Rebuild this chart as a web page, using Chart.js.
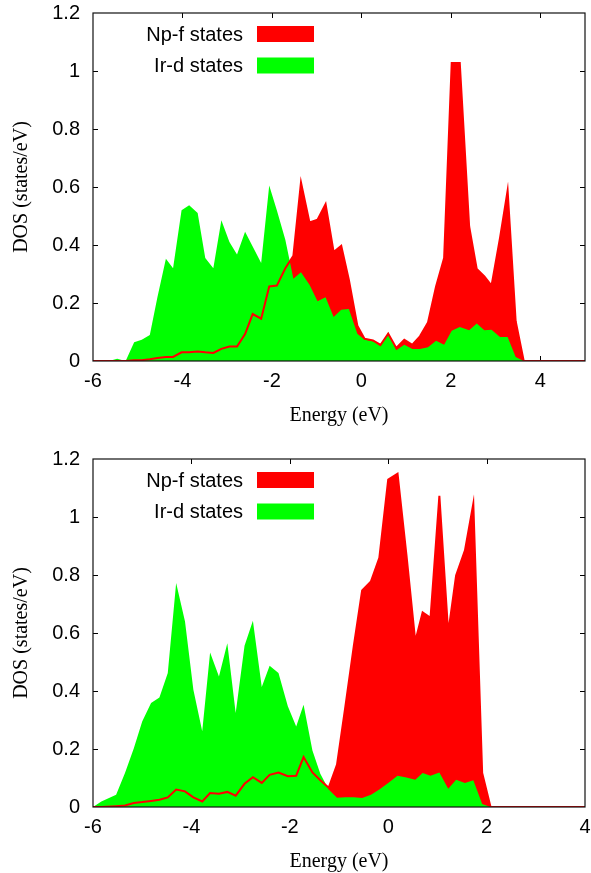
<!DOCTYPE html>
<html><head><meta charset="utf-8">
<script src="https://cdn.jsdelivr.net/npm/chart.js@4.4.0/dist/chart.umd.min.js"></script>
<style>
html,body{margin:0;padding:0;background:#fff;overflow:hidden;width:591px;height:873px;}
.panel{position:absolute;left:0;width:591px;height:446px;}
canvas{display:block;}
</style></head><body>
<div class="panel" style="top:0"><canvas id="c1" width="591" height="446"></canvas></div>
<div class="panel" style="top:446px"><canvas id="c2" width="591" height="446"></canvas></div>
<script>
// ---- data ----
const seriesLabels = ['Np-f states', 'Ir-d states'];
const xAxisTitle = 'Energy (eV)';
const yAxisTitle = 'DOS (states/eV)';

const topEnergy = [-6.00, -5.64, -5.46, -5.27, -5.08, -4.91, -4.73, -4.56, -4.37, -4.21,
  -4.02, -3.85, -3.66, -3.49, -3.31, -3.13, -2.95, -2.78, -2.60, -2.43,
  -2.24, -2.06, -1.89, -1.70, -1.52, -1.35, -1.16, -0.98, -0.80, -0.62,
  -0.45, -0.28, -0.09, 0.07, 0.26, 0.43, 0.60, 0.78, 0.96, 1.14,
  1.31, 1.49, 1.67, 1.85, 2.02, 2.20, 2.41, 2.58, 2.75, 2.91,
  3.10, 3.27, 3.45, 3.63, 3.80, 5.00];
const topIrD = [0, 0, 0.008, 0, 0.065, 0.073, 0.09, 0.22, 0.353, 0.32,
  0.52, 0.537, 0.51, 0.355, 0.32, 0.485, 0.41, 0.367, 0.446, 0.395,
  0.338, 0.605, 0.52, 0.418, 0.284, 0.306, 0.263, 0.206, 0.22, 0.152,
  0.177, 0.179, 0.094, 0.073, 0.068, 0.05, 0.099, 0.037, 0.056, 0.041,
  0.041, 0.047, 0.07, 0.056, 0.104, 0.117, 0.106, 0.129, 0.106, 0.108,
  0.083, 0.083, 0.014, 0, 0, 0];
const topNpF = [0, 0, 0, 0, 0.003, 0.003, 0.006, 0.01, 0.014, 0.014,
  0.03, 0.03, 0.033, 0.03, 0.028, 0.042, 0.05, 0.05, 0.093, 0.162,
  0.146, 0.257, 0.26, 0.32, 0.363, 0.616, 0.478, 0.487, 0.541, 0.376,
  0.397, 0.28, 0.122, 0.077, 0.071, 0.056, 0.094, 0.045, 0.073, 0.056,
  0.085, 0.133, 0.257, 0.355, 1.028, 1.028, 0.464, 0.317, 0.292, 0.26,
  0.424, 0.588, 0.137, 0, 0, 0];

const bottomEnergy = [-6.00, -5.83, -5.53, -5.35, -5.17, -5.00, -4.82, -4.65, -4.48, -4.31,
  -4.13, -3.96, -3.78, -3.62, -3.44, -3.27, -3.10, -2.92, -2.75, -2.57,
  -2.41, -2.23, -2.04, -1.87, -1.72, -1.54, -1.38, -1.21, -1.04, -0.87,
  -0.70, -0.53, -0.35, -0.18, 0.00, 0.19, 0.37, 0.55, 0.70, 0.86,
  1.04, 1.22, 1.38, 1.56, 1.73, 1.91, 2.08, 4.00];
const bottomIrD = [0, 0.019, 0.042, 0.117, 0.203, 0.295, 0.359, 0.378, 0.462, 0.772,
  0.64, 0.404, 0.261, 0.533, 0.45, 0.565, 0.324, 0.556, 0.642, 0.414,
  0.487, 0.462, 0.347, 0.278, 0.353, 0.195, 0.115, 0.06, 0.032, 0.034,
  0.034, 0.031, 0.042, 0.06, 0.083, 0.108, 0.102, 0.094, 0.117, 0.108,
  0.119, 0.063, 0.094, 0.083, 0.092, 0.01, 0, 0];
const bottomNpF = [0, 0, 0.003, 0.005, 0.014, 0.017, 0.021, 0.025, 0.033, 0.06,
  0.054, 0.033, 0.019, 0.048, 0.046, 0.052, 0.039, 0.08, 0.103, 0.083,
  0.111, 0.119, 0.106, 0.108, 0.172, 0.119, 0.092, 0.066, 0.146, 0.347,
  0.554, 0.747, 0.778, 0.859, 1.129, 1.149, 0.87, 0.571, 0.671, 0.652,
  1.073, 0.6, 0.798, 0.885, 1.046, 0.117, 0, 0];

const topXRange = [-6, 5];
const bottomXRange = [-6, 4];
const yRange = [0, 1.2];
const xStep = 2;
const yStep = 0.2;

// ---- styling ----
const RED = '#ff0000';
const GREEN = '#00ff00';
const SANS = '"Liberation Sans", Arial, Helvetica, sans-serif';
const SERIF = '"Liberation Serif", "Times New Roman", serif';

function pts(xs, ys) { return xs.map((x, i) => ({x: x, y: ys[i]})); }

const framePlugin = {
  id: 'gnuFrame',
  beforeDatasetsDraw(chart) {
    const {ctx, chartArea: a, scales: {x, y}} = chart;
    ctx.save();
    ctx.strokeStyle = '#000';
    ctx.lineWidth = 1;
    ctx.beginPath();
    x.ticks.forEach(t => {
      const px = Math.round(x.getPixelForValue(t.value)) + 0.5;
      if (px <= a.left + 2 || px >= a.right - 2) return;
      ctx.moveTo(px, a.bottom); ctx.lineTo(px, a.bottom - 5);
      ctx.moveTo(px, a.top); ctx.lineTo(px, a.top + 5);
    });
    y.ticks.forEach(t => {
      const py = Math.round(y.getPixelForValue(t.value)) + 0.5;
      if (py <= a.top + 2 || py >= a.bottom - 2) return;
      ctx.moveTo(a.left, py); ctx.lineTo(a.left + 5, py);
      ctx.moveTo(a.right, py); ctx.lineTo(a.right - 5, py);
    });
    ctx.stroke();
    ctx.restore();
  },
  afterDatasetsDraw(chart) {
    const {ctx, chartArea: a} = chart;
    ctx.save();
    ctx.strokeStyle = '#111';
    ctx.lineWidth = 1.2;
    ctx.strokeRect(a.left, a.top, a.right - a.left, a.bottom - a.top);
    ctx.restore();
  },
  afterDraw(chart) {
    const {ctx, chartArea: a} = chart;
    const items = chart.data.datasets.filter(d => d.legendRank !== undefined)
      .sort((p, q) => p.legendRank - q.legendRank);
    ctx.save();
    ctx.font = '20px ' + SANS;
    ctx.textAlign = 'right';
    ctx.textBaseline = 'middle';
    items.forEach((d, i) => {
      const cy = a.top + 21 + i * 31.5;
      ctx.fillStyle = '#000';
      ctx.fillText(d.label, a.left + 150, cy + 1);
      ctx.fillStyle = d.backgroundColor;
      ctx.fillRect(a.left + 164, cy - 8, 57, 16);
    });
    ctx.restore();
  }
};

function makePanel(id, energy, npf, ird, xRange) {
  return new Chart(document.getElementById(id), {
    type: 'line',
    data: {
      datasets: [
        { label: seriesLabels[0] + ' line', data: pts(energy, npf), borderColor: RED, borderWidth: 2,
          backgroundColor: RED, fill: false, pointRadius: 0, tension: 0, order: 0 },
        { label: seriesLabels[1], legendRank: 1, data: pts(energy, ird), borderWidth: 0, borderColor: GREEN,
          backgroundColor: GREEN, fill: 'origin', pointRadius: 0, tension: 0, order: 1 },
        { label: seriesLabels[0], legendRank: 0, data: pts(energy, npf), borderWidth: 0, borderColor: RED,
          backgroundColor: RED, fill: 'origin', pointRadius: 0, tension: 0, order: 2 }
      ]
    },
    options: {
      responsive: false,
      animation: false,
      events: [],
      layout: { padding: { top: 13, right: 6, left: 0, bottom: 0 } },
      plugins: { legend: { display: false }, tooltip: { enabled: false }, title: { display: false } },
      scales: {
        x: {
          type: 'linear', position: 'bottom',
          min: xRange[0], max: xRange[1],
          grid: { display: false, drawTicks: false },
          border: { display: false },
          ticks: { stepSize: xStep, includeBounds: false, color: '#000', padding: 8,
                   font: { family: SANS, size: 20 } },
          title: { display: true, text: xAxisTitle, color: '#000',
                   font: { family: SERIF, size: 20, lineHeight: 1 }, padding: { top: 0, bottom: 20 } },
          afterFit(s) { s.height = 85; s.paddingLeft = 0; s.paddingRight = 0; }
        },
        y: {
          type: 'linear', position: 'left',
          min: yRange[0], max: yRange[1],
          grid: { display: false, drawTicks: false },
          border: { display: false },
          ticks: { stepSize: yStep, color: '#000', padding: 13,
                   font: { family: SANS, size: 20 },
                   callback: v => String(Math.round(v * 10) / 10) },
          title: { display: true, text: yAxisTitle, color: '#000',
                   font: { family: SERIF, size: 20, lineHeight: 1 }, padding: { top: 12, bottom: 0 } },
          afterFit(s) { s.width = 93; s.paddingTop = 0; s.paddingBottom = 0; }
        }
      }
    },
    plugins: [framePlugin]
  });
}

makePanel('c1', topEnergy, topNpF, topIrD, topXRange);
makePanel('c2', bottomEnergy, bottomNpF, bottomIrD, bottomXRange);
</script>
</body></html>
